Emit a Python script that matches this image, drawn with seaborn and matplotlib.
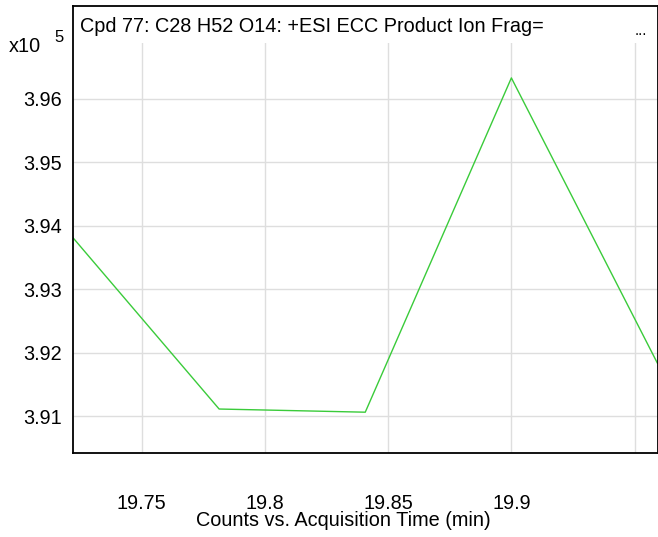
import seaborn as sns
import matplotlib.pyplot as plt
import pandas as pd
from matplotlib.patches import Rectangle

# Данные хроматограммы (значения в единицах x10^5)
acq_time = [19.7221, 19.7814, 19.8407, 19.9000, 19.9593]
counts = [3.9381, 3.9111, 3.9106, 3.9633, 3.9183]
x_ticks = [19.75, 19.80, 19.85, 19.90, 19.95]
x_tick_labels = ['19.75', '19.8', '19.85', '19.9', '']
y_ticks = [3.91, 3.92, 3.93, 3.94, 3.95, 3.96]
y_tick_labels = ['3.91', '3.92', '3.93', '3.94', '3.95', '3.96']

df = pd.DataFrame({'time': acq_time, 'counts': counts})

sns.set_style('white')
plt.rcParams['font.family'] = ['Liberation Sans', 'DejaVu Sans']
plt.rcParams['text.color'] = 'black'
plt.rcParams['xtick.color'] = 'black'
plt.rcParams['ytick.color'] = 'black'

fig = plt.figure(figsize=(6.58, 5.37), dpi=100)
ax = fig.add_axes([73 / 658, 1 - 452.5 / 537, (657.5 - 73) / 658, (452.5 - 6) / 537])

sns.lineplot(data=df, x='time', y='counts', ax=ax, color='#3ACB3A', linewidth=1.0)

ax.set_xlim(acq_time[0], acq_time[-1])
ax.set_ylim(3.91 - 36.5 / 6343, 3.91 + 410 / 6343)

ax.set_xticks(x_ticks)
ax.set_xticklabels(x_tick_labels, fontsize=14.3)
ax.set_yticks(y_ticks)
ax.set_yticklabels(y_tick_labels, fontsize=14.3)
ax.tick_params(axis='x', direction='out', length=5, width=1, color='#333333',
               labelcolor='black', pad=25)
ax.tick_params(axis='y', direction='out', length=4, width=1, color='#333333',
               labelcolor='black', pad=4)

# Сетка
ax.grid(True, color='#dedede', linewidth=1)
ax.set_axisbelow(True)

# Полоса заголовка внутри области графика
ax.add_patch(Rectangle((0, (452.5 - 43) / 446.5), 1, 1, transform=ax.transAxes,
                       facecolor='white', edgecolor='none', zorder=1.5))

for s in ax.spines.values():
    s.set_color('black')
    s.set_linewidth(1.3)

ax.set_xlabel('')
ax.set_ylabel('')

ax.text(80 / 658, 1 - 27 / 537, 'Cpd 77: C28 H52 O14: +ESI ECC Product Ion Frag=',
        transform=fig.transFigure, fontsize=14.3, va='center', ha='left', zorder=3)
ax.text(635 / 658, 1 - 31 / 537, '...', transform=fig.transFigure, fontsize=11,
        va='center', ha='left')

# Множитель оси Y
fig.text(9 / 658, 1 - 46 / 537, 'x10', fontsize=14.3, va='center', ha='left')
fig.text(54 / 658, 1 - 38 / 537, '5', fontsize=12, va='center', ha='left')

fig.text(343.5 / 658, 1 - 521 / 537, 'Counts vs. Acquisition Time (min)',
         fontsize=14.3, va='center', ha='center')

fig.savefig('out.png', dpi=100)
